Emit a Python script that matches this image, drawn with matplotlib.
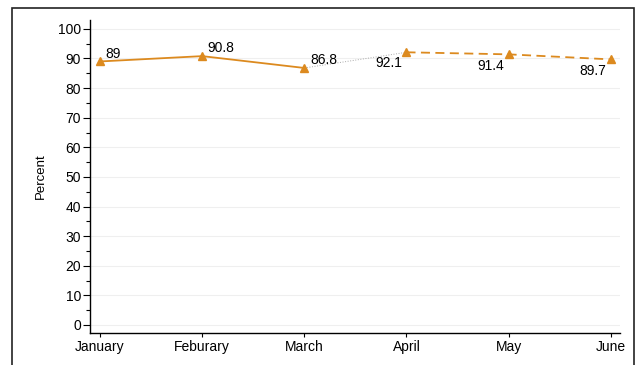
import matplotlib.pyplot as plt
from matplotlib.patches import Rectangle

plt.rcParams['font.family'] = ['Liberation Sans', 'DejaVu Sans']

months = ['January', 'Feburary', 'March', 'April', 'May', 'June']
actual_x = [0, 1, 2]
actual = [89, 90.8, 86.8]
forecast_x = [3, 4, 5]
forecast = [92.1, 91.4, 89.7]

orange = '#DC8A1F'

fig = plt.figure(figsize=(6.37, 3.65), dpi=100)
ax = fig.add_axes([0.1413, 0.0877, 0.8317, 0.8575])

# outer border around the graph region
fig.patches.append(Rectangle((0.019, -0.05), 0.976, 1.028, transform=fig.transFigure,
                             fill=False, edgecolor='#222222', linewidth=1.2))

for y in range(0, 101, 10):
    ax.axhline(y, color='#efefef', linewidth=0.8, zorder=0)

# gap connector between the two segments
ax.plot([actual_x[-1], forecast_x[0]], [actual[-1], forecast[0]], color='#aaaaaa',
        linestyle=':', linewidth=0.7, zorder=2)
ax.plot(actual_x, actual, color=orange, linewidth=1.3, marker='^', markersize=6, zorder=3)
ax.plot(forecast_x, forecast, color=orange, linewidth=1.3, linestyle=(0, (5, 3)),
        marker='^', markersize=6, zorder=3)

for x, v in zip(actual_x, actual):
    ax.annotate(f'{v:g}', (x, v), xytext=(4, 0.5), textcoords='offset points',
                ha='left', va='bottom', fontsize=10)
for x, v in zip(forecast_x, forecast):
    ax.annotate(f'{v:g}', (x, v), xytext=(-3, -3), textcoords='offset points',
                ha='right', va='top', fontsize=10)

ax.set_xlim(-0.098, 5.088)
ax.set_ylim(-2.7, 103)
ax.set_yticks(range(0, 101, 10))
ax.set_yticks(range(5, 100, 10), minor=True)
ax.set_xticks(range(len(months)))
ax.set_xticklabels(months)
ax.tick_params(axis='both', labelsize=10, length=5, width=0.8)
ax.tick_params(axis='y', which='minor', length=3, width=0.8)
ax.tick_params(axis='y', pad=1.5)
ax.tick_params(axis='x', length=3, pad=2)
ax.set_ylabel('Percent', fontsize=9.5, labelpad=8)

for side in ['top', 'right']:
    ax.spines[side].set_visible(False)
for side in ['left', 'bottom']:
    ax.spines[side].set_linewidth(1)

fig.savefig('out.png', dpi=100)
